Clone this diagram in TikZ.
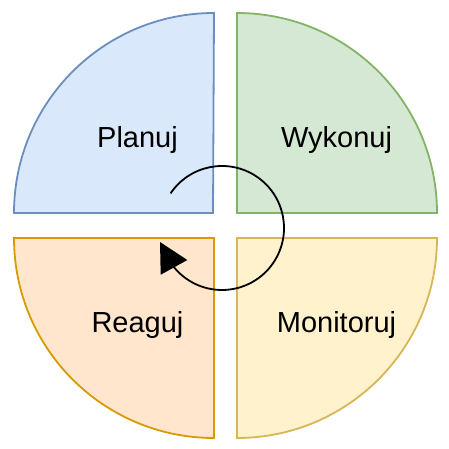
\documentclass[tikz,border=0pt]{standalone}
\usepackage{fontspec}
\setmainfont{Liberation Sans}
\usetikzlibrary{arrows.meta,calc}
\definecolor{planfill}{HTML}{DAE8FC}
\definecolor{plandraw}{HTML}{6C8EBF}
\definecolor{dofill}{HTML}{D5E8D4}
\definecolor{dodraw}{HTML}{82B366}
\definecolor{checkfill}{HTML}{FFF2CC}
\definecolor{checkdraw}{HTML}{D6B656}
\definecolor{actfill}{HTML}{FFE6CC}
\definecolor{actdraw}{HTML}{D79B00}
\tikzset{quarter/.style={line width=1.8pt,line join=miter},
    label text/.style={anchor=base,inner sep=0pt,font=\fontsize{29}{34}\selectfont},
    cycle arrow/.style={line width=1.8pt,-{Triangle[length=29pt,width=30pt]}}}

\begin{document}
\begin{tikzpicture}[x=1pt,y=1pt]
\useasboundingbox (0,0) rectangle (449,449);
% four quarters
\draw[quarter,draw=plandraw,fill=planfill] (213,236) -- (14,236) arc[start angle=180,end angle=90,radius=200pt] -- cycle;
\draw[quarter,draw=dodraw,fill=dofill] (237,236) -- (437,236) arc[start angle=0,end angle=90,radius=200pt] -- cycle;
\draw[quarter,draw=checkdraw,fill=checkfill] (237,211) -- (437,211) arc[start angle=0,end angle=-90,radius=200pt] -- cycle;
\draw[quarter,draw=actdraw,fill=actfill] (214,211) -- (14,211) arc[start angle=180,end angle=270,radius=200pt] -- cycle;
% labels
\node[label text] (planuj) at (137.5,301) {Planuj};
\node[label text] (wykonuj) at (336.5,301) {Wykonuj};
\node[label text] (monitoruj) at (336.5,116) {Monitoruj};
\node[label text] (reaguj) at (137.5,116) {Reaguj};
% cycle
\coordinate (hub) at (222,221);
\draw[cycle arrow] ($(hub)+(146:62pt)$) arc[start angle=146,end angle=-141,radius=62pt] -- ($(hub)+(-62,-14)$);
\end{tikzpicture}
\end{document}
